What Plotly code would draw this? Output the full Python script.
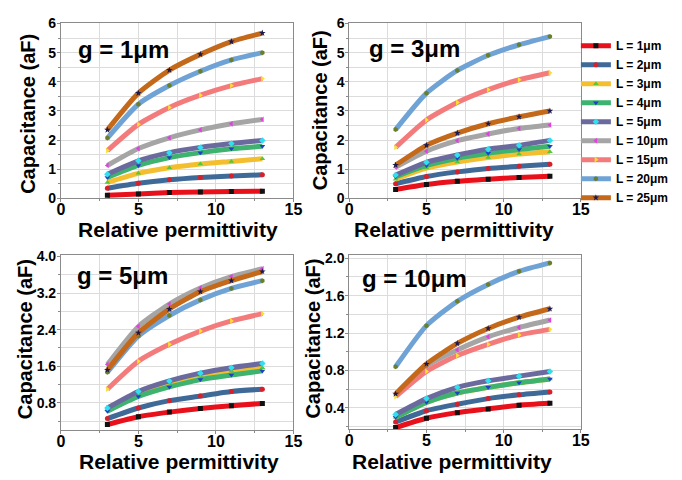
import plotly.graph_objects as go

# ---------------- data ----------------
eps = [3, 5, 7, 9, 11, 13]
L_labels = ["L = 1μm", "L = 2μm", "L = 3μm", "L = 4μm", "L = 5μm",
            "L = 10μm", "L = 15μm", "L = 20μm", "L = 25μm"]
gap_labels = ["g = 1μm", "g = 3μm", "g = 5μm", "g = 10μm"]

# capacitance (aF) per L, for each gap
cap_g1 = [
    [0.11, 0.15, 0.20, 0.22, 0.24, 0.25],
    [0.35, 0.52, 0.64, 0.72, 0.77, 0.81],
    [0.55, 0.86, 1.05, 1.18, 1.27, 1.36],
    [0.72, 1.13, 1.40, 1.57, 1.70, 1.79],
    [0.83, 1.29, 1.57, 1.75, 1.88, 1.99],
    [1.13, 1.71, 2.08, 2.35, 2.56, 2.71],
    [1.64, 2.54, 3.12, 3.54, 3.87, 4.11],
    [2.07, 3.23, 3.87, 4.36, 4.75, 5.00],
    [2.35, 3.61, 4.40, 4.94, 5.38, 5.67],
]
cap_g3 = [
    [0.31, 0.48, 0.59, 0.66, 0.72, 0.76],
    [0.50, 0.75, 0.91, 1.03, 1.10, 1.17],
    [0.66, 1.04, 1.25, 1.40, 1.52, 1.60],
    [0.74, 1.13, 1.38, 1.55, 1.68, 1.79],
    [0.80, 1.24, 1.49, 1.69, 1.82, 1.99],
    [1.07, 1.62, 1.98, 2.21, 2.40, 2.52],
    [1.75, 2.69, 3.29, 3.73, 4.07, 4.31],
    [2.36, 3.61, 4.39, 4.91, 5.27, 5.55],
    [1.14, 1.82, 2.24, 2.56, 2.80, 3.00],
]
cap_g5 = [
    [0.33, 0.50, 0.60, 0.68, 0.74, 0.79],
    [0.46, 0.69, 0.85, 0.95, 1.05, 1.10],
    [0.66, 1.01, 1.24, 1.40, 1.50, 1.57],
    [0.62, 0.94, 1.15, 1.31, 1.41, 1.50],
    [0.69, 1.05, 1.28, 1.45, 1.57, 1.66],
    [1.64, 2.47, 2.96, 3.31, 3.56, 3.73],
    [1.10, 1.71, 2.08, 2.37, 2.59, 2.75],
    [1.47, 2.26, 2.71, 3.05, 3.30, 3.47],
    [1.52, 2.33, 2.85, 3.23, 3.47, 3.67],
]
cap_g10 = [
    [0.19, 0.29, 0.35, 0.39, 0.43, 0.45],
    [0.25, 0.37, 0.44, 0.50, 0.54, 0.57],
    [0.30, 0.46, 0.56, 0.62, 0.67, 0.71],
    [0.30, 0.46, 0.56, 0.62, 0.67, 0.71],
    [0.33, 0.50, 0.62, 0.69, 0.74, 0.79],
    [0.54, 0.85, 1.02, 1.16, 1.26, 1.34],
    [0.52, 0.79, 0.96, 1.08, 1.18, 1.24],
    [0.84, 1.28, 1.54, 1.72, 1.86, 1.95],
    [0.55, 0.87, 1.09, 1.25, 1.37, 1.46],
]
panels = [cap_g1, cap_g3, cap_g5, cap_g10]

# ---------------- styles ----------------
line_colors = ["#E8111B", "#3F6A98", "#F4BF2E", "#3DB36F", "#6B6A9E",
               "#A5A5A5", "#F47B7B", "#6FA2D5", "#C4691A"]
marker_colors = ["#111111", "#D8202A", "#55C83A", "#1F3FC8", "#2EE0F0",
                 "#E040E0", "#F8E030", "#6B7F2A", "#1A1A50"]
marker_symbols = ["square", "circle", "triangle-up", "triangle-down", "diamond",
                  "triangle-left", "triangle-right", "hexagon", "star"]

FONT = "Liberation Sans, Arial, sans-serif"
W, H = 682, 480

def px_x(v):
    return v / W

def px_y(v):
    return 1 - v / H

# subplot pixel boxes (left, right, top, bottom)
boxes = [(58, 295, 16, 197), (352, 588, 16, 197),
         (58, 295, 256, 437), (352, 588, 256, 436)]
yranges = [[0, 6], [0, 6], [0.2, 4.02], [0.17, 2.03]]
ydticks = [1, 1, 0.8, 0.4]
yminor = [0.5, 0.5, 0.4, 0.2]
ytick0 = [0, 0, 0.8, 0.4]
yfmt = ["d", "d", ".1f", ".1f"]

fig = go.Figure()

for p, data in enumerate(panels):
    ax = "" if p == 0 else str(p + 1)
    for i, ys in enumerate(data):
        fig.add_trace(go.Scatter(
            x=eps, y=ys, mode="lines+markers", name=L_labels[i],
            xaxis="x" + ax, yaxis="y" + ax,
            line=dict(color=line_colors[i], width=5, shape="spline", smoothing=0.6),
            marker=dict(color=marker_colors[i], symbol=marker_symbols[i], size=5,
                        line=dict(width=0)),
            showlegend=(p == 1), legendgroup=L_labels[i],
        ))

layout = dict(
    width=W, height=H, autosize=False,
    margin=dict(l=0, r=0, t=0, b=0),
    paper_bgcolor="white", plot_bgcolor="white",
    font=dict(family=FONT, color="black"),
    legend=dict(x=px_x(583), y=px_y(24), xanchor="left", yanchor="top",
                bgcolor="rgba(0,0,0,0)", borderwidth=0,
                font=dict(family=FONT, size=12, color="black", weight="bold"),
                tracegroupgap=0),
    annotations=[],
)

axis_common = dict(
    showline=True, mirror=True, linecolor="#8A8A8A", linewidth=1,
    showgrid=True, gridcolor="#DCDCDC", gridwidth=1,
    ticks="outside", ticklen=3, tickcolor="#8A8A8A",
    zeroline=False,
)

for p in range(4):
    l, r, t, b = boxes[p]
    ax = "" if p == 0 else str(p + 1)
    layout["xaxis" + ax] = dict(
        axis_common, domain=[px_x(l), px_x(r)], range=[0, 15],
        tick0=0, dtick=5, anchor="y" + ax, ticklabelstandoff=-7,
        tickfont=dict(family=FONT, size=16, color="black", weight="bold"),
        minor=dict(dtick=2.5, showgrid=True, gridcolor="#DCDCDC", ticks="outside",
                   ticklen=2, tickcolor="#8A8A8A"),
    )
    layout["yaxis" + ax] = dict(
        axis_common, domain=[px_y(b), px_y(t)], range=yranges[p],
        tick0=ytick0[p], dtick=ydticks[p], tickformat=yfmt[p], anchor="x" + ax,
        ticklabelstandoff=-2,
        tickfont=dict(family=FONT, size=14, color="black", weight="bold"),
        minor=dict(dtick=yminor[p], showgrid=True, gridcolor="#DCDCDC", ticks="outside",
                   ticklen=2, tickcolor="#8A8A8A"),
    )

# axis titles and panel labels (pixel positions)
xtitle_pos = [(177, 229), (459, 229), (178, 469), (457, 469)]
ytitle_pos = [(25, 110), (323, 106), (21, 343), (315, 342)]
glabel_pos = [(73, 43), (370, 42), (72, 277), (363, 280)]
for p in range(4):
    layout["annotations"].append(dict(
        text="Relative permittivity", xref="paper", yref="paper",
        x=px_x(xtitle_pos[p][0]), y=px_y(xtitle_pos[p][1]),
        xanchor="center", yanchor="middle", showarrow=False,
        font=dict(family=FONT, size=21, color="black", weight="bold")))
    layout["annotations"].append(dict(
        text="Capacitance (aF)", xref="paper", yref="paper", textangle=-90,
        x=px_x(ytitle_pos[p][0]), y=px_y(ytitle_pos[p][1]),
        xanchor="center", yanchor="middle", showarrow=False,
        font=dict(family=FONT, size=20, color="black", weight="bold")))
    layout["annotations"].append(dict(
        text=gap_labels[p], xref="paper", yref="paper",
        x=px_x(glabel_pos[p][0]), y=px_y(glabel_pos[p][1]),
        xanchor="left", yanchor="middle", showarrow=False,
        font=dict(family=FONT, size=24, color="black", weight="bold")))

fig.update_layout(**layout)
fig.write_html("out.html")
